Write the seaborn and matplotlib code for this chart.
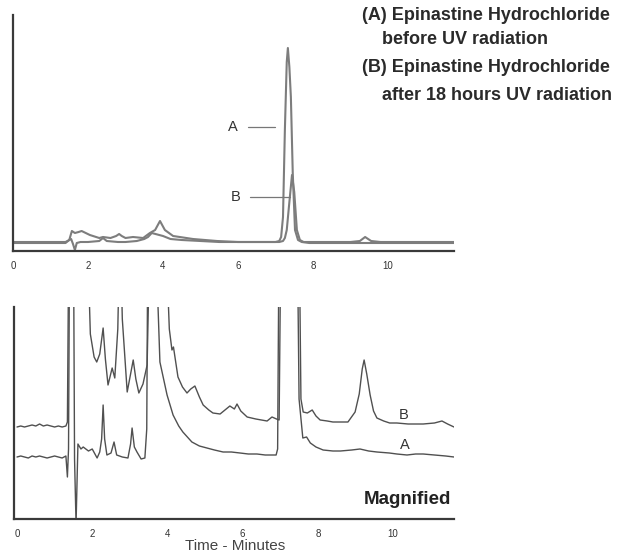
import matplotlib
matplotlib.use('Agg')
import matplotlib.pyplot as plt
import pandas as pd
import seaborn as sns
import numpy as np

# Epinastine HCl chromatograms (time in minutes, detector response in arbitrary units)

# top panel, full scale
top_a_time = [0.0, 0.5, 1.0, 1.4, 1.5, 1.55, 1.6, 1.65, 1.7, 1.8, 2.0, 2.3, 2.4, 2.5, 2.8, 3.0, 3.3, 3.5, 3.6, 3.7,
              3.8, 3.9, 4.0, 4.2, 4.5, 5.0, 5.5, 6.0, 6.5, 7.0, 7.1, 7.15, 7.2, 7.25, 7.3, 7.33, 7.37, 7.41, 7.46,
              7.52, 7.6, 7.7, 7.9, 8.5, 9.0, 9.5, 10.0, 10.5, 11.0, 11.8]
top_a_resp = [-1, -1, -1, -1, 2, 3, -2, -8, -1, 0, 0, 1, 4, 1, 0, 0, 1, 3, 5, 9,
              8, 7, 6, 3, 2, 1, 0, 0, 0, 0, 1, 5, 25, 112, 180, 194, 175, 145, 69,
              12, 2, 0, -1, -1, -1, -1, -1, -1, -1, -1]

top_b_time = [0.0, 0.5, 1.0, 1.4, 1.5, 1.57, 1.65, 1.75, 1.83, 2.05, 2.3, 2.4, 2.6, 2.75, 2.83, 2.9, 3.0, 3.2,
              3.47, 3.65, 3.79, 3.92, 4.05, 4.27, 4.8, 5.44, 6.0, 6.77, 7.1, 7.2, 7.25, 7.3, 7.37, 7.44, 7.5,
              7.57, 7.65, 7.75, 8.0, 8.5, 9.0, 9.25, 9.39, 9.55, 9.8, 10.5, 11.0, 11.8]
top_b_resp = [0, 0, 0, 0, 2, 11, 9, 10, 11, 7, 4, 5, 4, 6, 8, 6, 4, 5,
              4, 9, 12, 21, 12, 6, 3, 1, 0, 0, 0, 1, 4, 12, 40, 67, 50,
              12, 2, 0, 0, 0, 0, 1, 5, 1, 0, 0, 0, 0]

# bottom panel, magnified (values above 212 run off the scale)
mag_a_time = [0.0, 0.1, 0.2, 0.3, 0.4, 0.5, 0.6, 0.7, 0.8, 0.9, 1.0, 1.1, 1.2, 1.3, 1.34, 1.37, 1.4, 1.43,
              1.5, 1.53, 1.57, 1.62, 1.7, 1.76, 1.9, 2.0, 2.13, 2.2, 2.25, 2.29, 2.33, 2.39, 2.5, 2.58, 2.65,
              2.8, 2.95, 3.02, 3.06, 3.12, 3.19, 3.3, 3.4, 3.45, 3.48, 3.52, 3.67, 3.8, 3.99, 4.15, 4.3, 4.41,
              4.65, 4.85, 5.05, 5.25, 5.48, 5.7, 5.93, 6.15, 6.38, 6.6, 6.89, 6.93, 6.97, 7.45, 7.5, 7.6, 7.7,
              7.8, 7.95, 8.14, 8.4, 8.6, 8.9, 9.12, 9.35, 9.57, 9.9, 10.1, 10.37, 10.6, 10.8, 11.1, 11.4, 11.62]
mag_a_resp = [62, 63, 62, 61, 63, 62, 63, 62, 61, 62, 63, 62, 61, 63, 42, 70, 300, 300,
              300, 60, -5, 75, 70, 72, 68, 70, 61, 67, 80, 114, 80, 64, 66, 77, 64,
              62, 61, 75, 91, 72, 67, 60, 61, 90, 300, 300, 300, 157, 124, 104, 93, 87,
              77, 73, 71, 69, 67, 67, 66, 65, 65, 64, 64, 70, 300, 300, 120, 81, 82,
              76, 72, 69, 68, 68, 69, 70, 68, 67, 66, 65, 64, 65, 65, 64, 63, 62]

mag_b_time = [0.0, 0.1, 0.2, 0.3, 0.4, 0.5, 0.6, 0.7, 0.8, 0.9, 1.0, 1.1, 1.2, 1.3, 1.34, 1.38, 1.86, 1.95,
              2.05, 2.12, 2.2, 2.29, 2.35, 2.42, 2.53, 2.6, 2.68, 2.74, 2.8, 2.93, 3.02, 3.09, 3.16, 3.24, 3.35,
              3.46, 3.54, 3.94, 4.05, 4.12, 4.16, 4.28, 4.4, 4.52, 4.62, 4.73, 4.85, 4.95, 5.1, 5.21, 5.4,
              5.66, 5.78, 5.85, 5.95, 6.12, 6.35, 6.65, 6.78, 6.9, 6.97, 7.02, 7.5, 7.55, 7.61, 7.72, 7.85,
              7.95, 8.06, 8.25, 8.4, 8.6, 8.8, 8.99, 9.1, 9.18, 9.23, 9.3, 9.39, 9.48, 9.57, 9.75, 9.91,
              10.1, 10.4, 10.8, 11.1, 11.3, 11.45, 11.62]
mag_b_resp = [92, 93, 92, 93, 94, 93, 95, 93, 94, 93, 92, 93, 92, 93, 97, 300, 300, 185,
              162, 157, 165, 191, 160, 134, 151, 141, 190, 300, 200, 127, 145, 159, 140, 126, 135,
              154, 300, 300, 190, 169, 172, 142, 132, 126, 130, 133, 122, 114, 109, 106, 105,
              113, 110, 115, 108, 102, 100, 98, 102, 100, 99, 300, 300, 120, 107, 106, 109,
              103, 99, 98, 97, 97, 97, 107, 125, 150, 159, 145, 124, 108, 101, 98, 96,
              96, 95, 95, 96, 98, 95, 92]

top_a = pd.DataFrame({'time': top_a_time, 'resp': top_a_resp})
top_b = pd.DataFrame({'time': top_b_time, 'resp': top_b_resp})
mag_a = pd.DataFrame({'time': mag_a_time, 'resp': mag_a_resp})
mag_b = pd.DataFrame({'time': mag_b_time, 'resp': mag_b_resp})

sns.set_theme(style='white')
plt.rcParams['font.family'] = ['Liberation Sans', 'DejaVu Sans']

fig = plt.figure(figsize=(6.33, 5.55), dpi=100)
ax1 = fig.add_axes([13 / 633, 1 - 251 / 555, 441 / 633, 236 / 555])
ax2 = fig.add_axes([14 / 633, 1 - 519 / 555, 440 / 633, 212 / 555])

trace_top = '#7d7d7d'
trace_mag = '#505050'
for df in (top_b, top_a):
    sns.lineplot(data=df, x='time', y='resp', ax=ax1, color=trace_top, linewidth=1.5,
                 sort=False, estimator=None)
for df in (mag_a, mag_b):
    sns.lineplot(data=df, x='time', y='resp', ax=ax2, color=trace_mag, linewidth=1.0,
                 sort=False, estimator=None)

ax1.set_xlim(0, 11.76)
ax1.set_ylim(-9, 227)
ax2.set_xlim(-0.08, 11.62)
ax2.set_ylim(0, 212)

for ax in (ax1, ax2):
    ax.set_xlabel('')
    ax.set_ylabel('')
    for side in ('top', 'right'):
        ax.spines[side].set_visible(False)
    for side in ('left', 'bottom'):
        ax.spines[side].set_color('#3a3a3a')
        ax.spines[side].set_linewidth(1.6)
    ax.set_xticks([0, 2, 4, 6, 8, 10])
    ax.set_xticks(np.arange(0, 11.75, 0.25), minor=True)
    ax.set_yticks([])
    ax.set_yticks(np.arange(0, 212, 4), minor=True)
    ax.tick_params(axis='x', which='major', length=0, labelsize=7, colors='#333333', pad=7)
    ax.tick_params(axis='x', which='minor', length=1.5, width=0.6, color='#bbbbbb', direction='out')
    ax.tick_params(axis='y', which='minor', length=1.5, width=0.6, color='#999999', direction='in')
    ax.patch.set_alpha(0)

# peak labels, top panel
ax1.text(5.87, 115, 'A', fontsize=10.5, color='#333333', ha='center', va='center')
ax1.plot([6.27, 6.99], [115, 115], color='#777777', linewidth=0.9)
ax1.text(5.95, 45, 'B', fontsize=10.5, color='#333333', ha='center', va='center')
ax1.plot([6.32, 7.39], [45, 45], color='#777777', linewidth=0.9)

# trace labels, magnified panel
ax2.text(10.27, 104, 'B', fontsize=10.5, color='#333333', ha='center', va='center')
ax2.text(10.32, 74, 'A', fontsize=10.5, color='#333333', ha='center', va='center')
ax2.text(11.54, 19, 'Magnified', fontsize=13.5, fontweight='bold', color='#222222',
         ha='right', va='center')

legend_kw = dict(fontsize=13, fontweight='bold', color='#2a2a2a', va='center', ha='left')
fig.text(362 / 633, 1 - 16 / 555, '(A) Epinastine Hydrochloride', **legend_kw)
fig.text(382 / 633, 1 - 40 / 555, 'before UV radiation', **legend_kw)
fig.text(362 / 633, 1 - 68 / 555, '(B) Epinastine Hydrochloride', **legend_kw)
fig.text(382 / 633, 1 - 95 / 555, 'after 18 hours UV radiation', **legend_kw)

fig.text(235 / 633, 1 - 546 / 555, 'Time - Minutes', fontsize=11, color='#444444',
         ha='center', va='center')

fig.savefig('out.png', dpi=100)
